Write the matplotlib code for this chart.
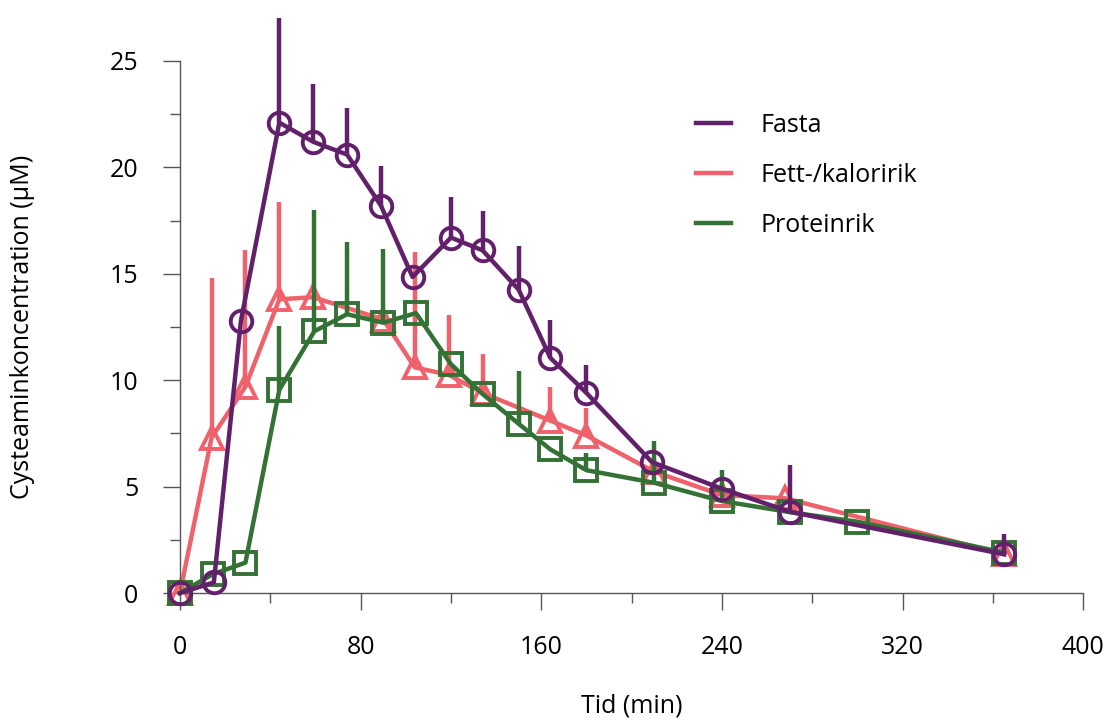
import matplotlib
matplotlib.use("Agg")
import matplotlib.pyplot as plt
from matplotlib.ticker import MultipleLocator
from matplotlib.lines import Line2D
import numpy as np

plt.rcParams['font.family'] = ['Open Sans', 'DejaVu Sans']

# Fasta (fasting)
t_fasta = [0, 15, 27, 44, 59, 74, 89, 103, 120, 134, 150, 164, 180, 209, 240, 270, 365]
y_fasta = [0, 0.5, 12.8, 22.1, 21.2, 20.6, 18.2, 14.85, 16.7, 16.1, 14.25, 11.05, 9.4, 6.15, 4.9, 3.82, 1.82]
up_fasta = [0, 0, 0, 4.9, 2.7, 2.2, 1.85, 0, 1.9, 1.85, 2.05, 1.8, 1.3, 0, 0, 2.2, 0.95]

# Fett-/kaloririk (high fat/calorie)
t_fett = [0, 14, 29, 44, 59, 90, 104, 119, 134, 164, 180, 210, 240, 268, 365]
y_fett = [0, 7.3, 9.7, 13.8, 13.9, 12.85, 10.6, 10.25, 9.4, 8.1, 7.4, 5.7, 4.6, 4.45, 1.82]
up_fett = [0, 7.5, 6.4, 4.55, 0, 0, 5.4, 2.8, 1.85, 1.6, 1.3, 0, 0, 0, 0]

# Proteinrik (high protein)
t_prot = [0, 14.5, 29, 44, 59.5, 74, 90, 104.5, 120, 134, 150, 164, 180, 210, 240, 270, 300, 365]
y_prot = [0, 0.88, 1.43, 9.55, 12.3, 13.1, 12.7, 13.15, 10.75, 9.35, 7.95, 6.75, 5.77, 5.18, 4.32, 3.8, 3.35, 1.9]
up_prot = [0, 0, 0, 3.0, 5.7, 3.4, 3.45, 0, 0, 0, 2.5, 0, 0.8, 1.97, 1.45, 0, 0, 0]

col_fasta = '#62206b'
col_fett = '#f0626b'
col_prot = '#347134'

fig = plt.figure(figsize=(11.11, 7.21), dpi=100)
ax = fig.add_axes([0.162, 0.1775, 0.813, 0.738])

series = [
    (t_fett, y_fett, up_fett, col_fett, '^', 2),
    (t_prot, y_prot, up_prot, col_prot, 's', 3),
    (t_fasta, y_fasta, up_fasta, col_fasta, 'o', 4),
]
for t, y, up, c, m, z in series:
    ax.errorbar(t, y, yerr=[np.zeros(len(up)), up], fmt='none', ecolor=c,
                elinewidth=3.2, capsize=0, zorder=z, clip_on=False)
    ax.plot(t, y, color=c, lw=3.2, marker=m, markersize=15.5,
            markerfacecolor='none', markeredgewidth=2.8, markeredgecolor=c,
            zorder=z + 0.5, clip_on=False)

ax.set_xlim(0, 400)
ax.set_ylim(0, 25)
ax.xaxis.set_major_locator(MultipleLocator(80))
ax.xaxis.set_minor_locator(MultipleLocator(40))
ax.yaxis.set_major_locator(MultipleLocator(5))
ax.yaxis.set_minor_locator(MultipleLocator(2.5))

for s in ['top', 'right']:
    ax.spines[s].set_visible(False)
for s in ['left', 'bottom']:
    ax.spines[s].set_color('#555555')
    ax.spines[s].set_linewidth(1.0)

ax.tick_params(axis='both', which='major', direction='out', length=12, width=1,
               color='#555555', labelsize=18)
ax.tick_params(axis='both', which='minor', direction='out', length=7, width=1,
               color='#555555')
ax.tick_params(axis='x', which='major', pad=18)
ax.tick_params(axis='y', which='major', pad=18)

ax.set_xlabel('Tid (min)', fontsize=18, labelpad=24)
ax.set_ylabel('Cysteaminkoncentration (µM)', fontsize=18, labelpad=54)

leg_handles = [Line2D([0], [0], color=c, lw=3.2) for c in (col_fasta, col_fett, col_prot)]
ax.legend(leg_handles, ['Fasta', 'Fett-/kaloririk', 'Proteinrik'],
          loc='upper left', bbox_to_anchor=(0.546, 0.944), frameon=False,
          fontsize=18, handlelength=1.4, handletextpad=1.2, labelspacing=1.0)

fig.savefig('out.png', dpi=100)
